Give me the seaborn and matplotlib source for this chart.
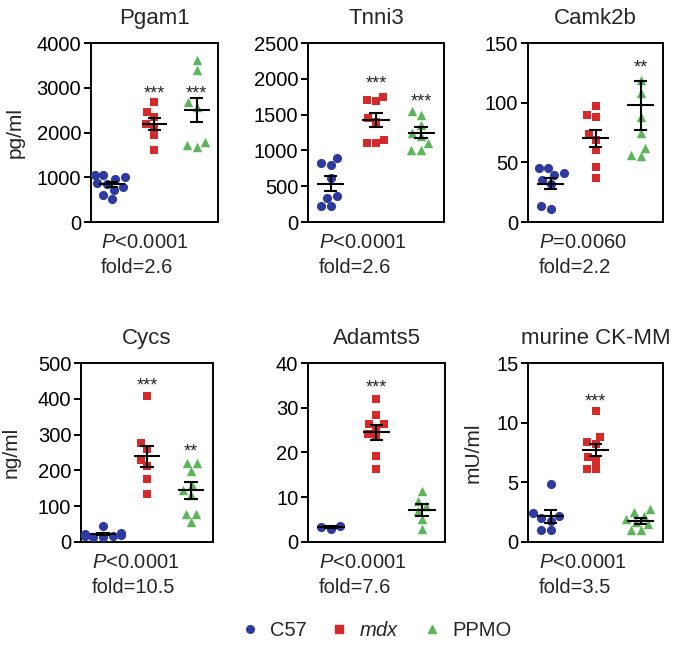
import numpy as np
import pandas as pd
import matplotlib
matplotlib.use("Agg")
import matplotlib.pyplot as plt
from matplotlib.lines import Line2D
import seaborn as sns

# ---- data ----
groups = ["C57", "mdx", "PPMO"]

titles = ["Pgam1", "Tnni3", "Camk2b", "Cycs", "Adamts5", "murine CK-MM"]
units = ["pg/ml", "", "", "ng/ml", "", "mU/ml"]
ymax = [4000, 2500, 150, 500, 40, 15]
ystep = [1000, 500, 50, 100, 10, 5]
p_text = ["<0.0001", "<0.0001", "=0.0060", "<0.0001", "<0.0001", "<0.0001"]
fold = ["2.6", "2.6", "2.2", "10.5", "7.6", "3.5"]
stars = [["", "***", "***"], ["", "***", "***"], ["", "", "**"],
         ["", "***", "**"], ["", "***", ""], ["", "***", ""]]

pgam1_c57 = [1060, 1040, 1000, 950, 880, 850, 780, 720, 600, 520]
pgam1_mdx = [2680, 2450, 2350, 2200, 2130, 1940, 1610]
pgam1_ppmo = [3630, 3400, 2690, 2580, 1790, 1720, 1680]
pgam1_mean = [840, 2190, 2505]
pgam1_sem = [60, 130, 260]

tnni3_c57 = [900, 830, 800, 620, 360, 340, 220, 220]
tnni3_mdx = [1750, 1700, 1690, 1450, 1400, 1150, 1100, 1100]
tnni3_ppmo = [1550, 1500, 1350, 1250, 1200, 1100, 1000, 1000]
tnni3_mean = [537, 1425, 1250]
tnni3_sem = [105, 100, 75]

camk2b_c57 = [45, 45, 41, 39, 35, 32, 13, 11]
camk2b_mdx = [97, 90, 88, 74, 69, 60, 46, 37]
camk2b_ppmo = [119, 108, 88, 75, 62, 56, 55]
camk2b_mean = [32, 70, 98]
camk2b_sem = [4.5, 7.5, 20.5]

cycs_c57 = [45, 25, 22, 20, 18, 17, 15, 15]
cycs_mdx = [408, 276, 259, 230, 212, 177, 133]
cycs_ppmo = [222, 222, 198, 158, 146, 130, 79, 79, 56]
cycs_mean = [22, 239, 144]
cycs_sem = [3, 30, 23]

adamts5_c57 = [3.0, 3.5, 3.3]
adamts5_mdx = [31.9, 28.3, 26.4, 26.4, 25.3, 24.1, 23.4, 19.3, 16.3]
adamts5_ppmo = [11.4, 9.2, 8.1, 7.0, 5.1, 2.8]
adamts5_mean = [3.3, 24.5, 7.2]
adamts5_sem = [0.2, 1.7, 1.4]

ckmm_c57 = [4.9, 2.4, 2.2, 2.0, 1.8, 1.0, 1.0]
ckmm_mdx = [10.95, 8.8, 8.4, 8.2, 7.1, 6.8, 6.1, 6.1]
ckmm_ppmo = [2.8, 2.5, 2.2, 1.9, 1.7, 1.5, 1.0, 1.0]
ckmm_mean = [2.15, 7.7, 1.76]
ckmm_sem = [0.55, 0.5, 0.25]

values = [
    [pgam1_c57, pgam1_mdx, pgam1_ppmo],
    [tnni3_c57, tnni3_mdx, tnni3_ppmo],
    [camk2b_c57, camk2b_mdx, camk2b_ppmo],
    [cycs_c57, cycs_mdx, cycs_ppmo],
    [adamts5_c57, adamts5_mdx, adamts5_ppmo],
    [ckmm_c57, ckmm_mdx, ckmm_ppmo],
]
means = [pgam1_mean, tnni3_mean, camk2b_mean, cycs_mean, adamts5_mean, ckmm_mean]
sems = [pgam1_sem, tnni3_sem, camk2b_sem, cycs_sem, adamts5_sem, ckmm_sem]

# ---- layout / style ----
colors = ["#2e3a9f", "#d62a2a", "#5db55a"]
markers = ["o", "s", "^"]
msizes = [6.6, 6.0, 6.8]

axes_pos = [[0.1328, 0.6558, 0.1854, 0.2775],
            [0.4496, 0.6558, 0.1985, 0.2775],
            [0.7708, 0.6558, 0.1971, 0.2775],
            [0.1182, 0.1597, 0.1927, 0.2775],
            [0.4496, 0.1597, 0.2000, 0.2775],
            [0.7708, 0.1597, 0.1971, 0.2775]]
ylabel_x = [-0.52, 0, 0, -0.46, 0, -0.34]
star_frac = [[0, 0.75, 0.75], [0, 0.81, 0.71], [0, 0, 0.90],
             [0, 0.91, 0.54], [0, 0.90, 0], [0, 0.82, 0]]

sns.set_style("ticks")
plt.rcParams['font.family'] = ['Liberation Sans', 'DejaVu Sans']
plt.rcParams['mathtext.fontset'] = 'custom'
plt.rcParams['mathtext.rm'] = 'Liberation Sans'
plt.rcParams['mathtext.it'] = 'Liberation Sans:italic'

fig = plt.figure(figsize=(6.85, 6.45), dpi=100)

for i in range(6):
    ax = fig.add_axes(axes_pos[i])
    rows = []
    for g, v in zip(groups, values[i]):
        for val in v:
            rows.append({"group": g, "value": val})
    df = pd.DataFrame(rows)

    for g, c, m, s in zip(groups, colors, markers, msizes):
        sns.swarmplot(data=df[df["group"] == g], x="group", y="value", order=groups,
                      color=c, marker=m, size=s, linewidth=0, ax=ax, zorder=3)

    # mean +/- SEM
    x = np.arange(3)
    mu = np.array(means[i])
    se = np.array(sems[i])
    ax.hlines(mu, x - 0.3, x + 0.3, color="black", lw=1.5, zorder=5)
    ax.hlines(mu + se, x - 0.15, x + 0.15, color="black", lw=1.5, zorder=5)
    ax.hlines(mu - se, x - 0.15, x + 0.15, color="black", lw=1.5, zorder=5)
    ax.vlines(x, mu - se, mu + se, color="black", lw=1.5, zorder=5)

    for j in range(3):
        if stars[i][j]:
            ax.annotate(stars[i][j], xy=(j, star_frac[i][j]),
                        xycoords=("data", "axes fraction"),
                        xytext=(0, -8), textcoords="offset points",
                        ha="center", va="baseline", fontsize=13)

    ax.set_xlim(-0.5, 2.5)
    ax.set_ylim(0, ymax[i])
    ax.set_yticks(np.arange(0, ymax[i] + 1, ystep[i]))
    ax.set_xticks([])
    ax.set_xlabel("")
    ax.set_ylabel(units[i], fontsize=15)
    if units[i]:
        ax.yaxis.set_label_coords(ylabel_x[i], 0.5)
    ax.set_title(titles[i], fontsize=16, pad=14)
    ax.tick_params(axis="y", length=5, width=1.4, labelsize=14.5, pad=2,
                   color="black", labelcolor="black")
    for sp in ax.spines.values():
        sp.set_linewidth(1.4)
        sp.set_color("black")

    ax.annotate(r"$\mathit{P}$" + p_text[i], xy=(0.08, 0), xycoords="axes fraction",
                xytext=(0, -19), textcoords="offset points",
                ha="left", va="baseline", fontsize=14.5)
    ax.annotate("fold=" + fold[i], xy=(0.08, 0), xycoords="axes fraction",
                xytext=(0, -37), textcoords="offset points",
                ha="left", va="baseline", fontsize=14.5)

handles = [Line2D([], [], marker=m, color=c, linestyle="none", markersize=5.5)
           for m, c in zip(markers, colors)]
labels = ["C57", r"$\mathit{mdx}$", "PPMO"]
fig.legend(handles, labels, loc="center", bbox_to_anchor=(0.548, 0.022), ncol=3,
           frameon=False, fontsize=14.5, handlelength=1.0, handletextpad=0.5,
           columnspacing=1.1)

fig.savefig("out.png", dpi=100)
